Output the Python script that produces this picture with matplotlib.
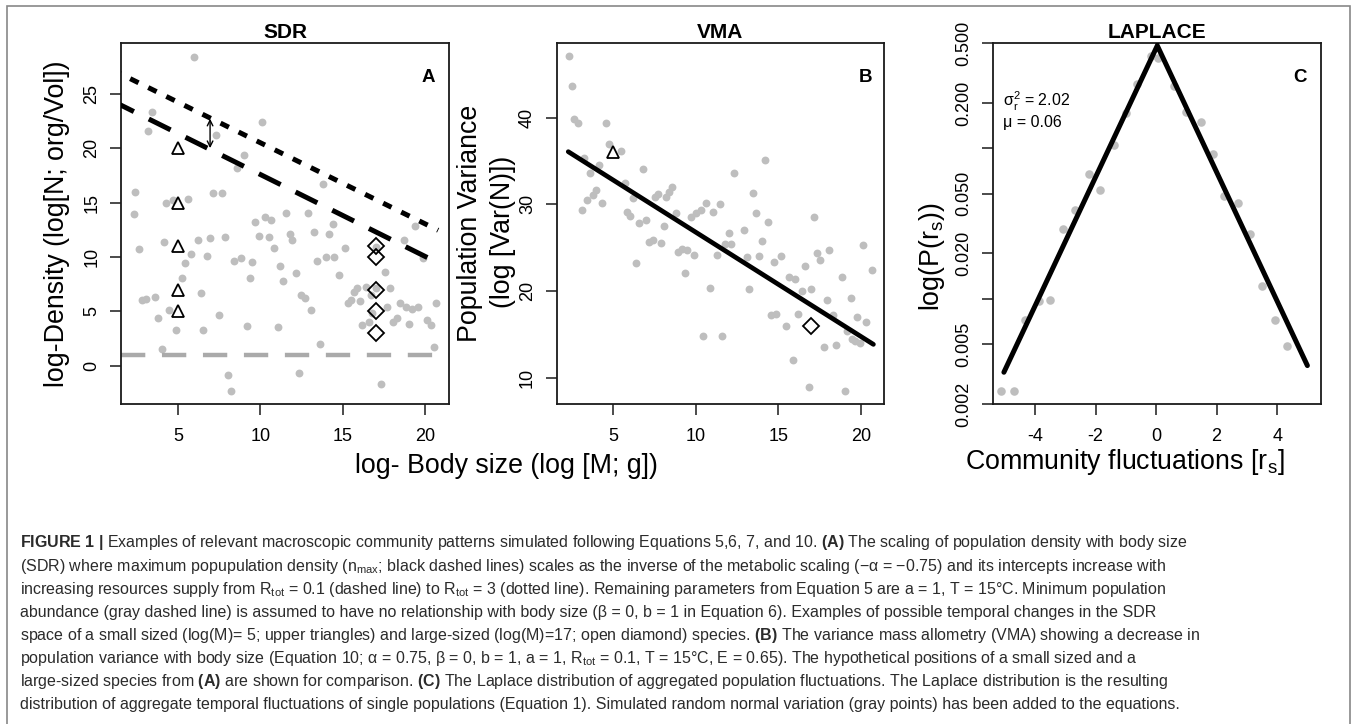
import matplotlib.pyplot as plt
from matplotlib.patches import Rectangle

plt.rcParams['font.family'] = ['Liberation Sans', 'DejaVu Sans']
plt.rcParams['axes.unicode_minus'] = False
plt.rcParams['mathtext.fontset'] = 'custom'
plt.rcParams['mathtext.rm'] = 'Liberation Sans'
plt.rcParams['mathtext.it'] = 'Liberation Sans:italic'
plt.rcParams['mathtext.bf'] = 'Liberation Sans:bold'
plt.rcParams['lines.scale_dashes'] = False

# ---- panel A: SDR (log-density vs log body size)
sdr_x = [6.0, 3.4, 3.2, 7.3, 9.0, 8.6, 2.4, 2.3, 4.3, 4.7, 5.6, 7.1, 7.7, 2.65, 4.15,
         6.2, 6.95, 7.85, 5.8, 6.75, 5.4, 5.25, 2.8, 3.05, 3.6, 6.4, 3.8, 4.45, 4.9, 6.55,
         7.5, 4.0, 8.05, 8.25, 8.4, 8.8, 9.5, 9.35, 9.2, 9.7,
         10.1, 10.3, 10.65, 9.9, 10.5, 10.85, 11.2, 11.35, 11.05, 11.55, 11.8, 11.95, 12.15,
         12.5, 12.7, 12.35, 12.9, 13.25, 13.8, 13.05, 13.45, 13.6, 14.0, 14.2, 14.4, 14.5,
         14.75, 15.15,
         15.35, 15.5, 15.7, 15.9, 16.05, 16.4, 16.75, 16.2, 16.6, 16.8, 17.05, 17.0, 17.55,
         17.35, 17.9, 17.7, 18.05, 18.3, 18.5, 18.7, 18.85, 19.2, 19.55, 19.05, 19.4, 19.9,
         20.1, 20.35, 20.55, 20.7]
sdr_y = [28.4, 23.35, 21.6, 21.2, 19.4, 18.2, 16.0, 13.9, 15.0, 15.2, 15.3, 15.85, 15.9, 10.7, 11.4,
         11.55, 11.7, 11.85, 10.25, 10.1, 9.4, 8.1, 6.05, 6.1, 6.3, 6.65, 4.4, 5.1, 3.25, 3.25,
         4.7, 1.5, -0.9, -2.3, 9.6, 9.9, 9.55, 8.1, 3.65, 13.25,
         22.4, 13.7, 13.35, 11.9, 11.8, 10.85, 9.15, 7.8, 3.6, 14.0, 12.1, 11.55, 8.55,
         6.5, 6.2, -0.7, 14.0, 12.25, 16.7, 5.1, 9.65, 2.0, 10.0, 12.1, 13.0, 9.95,
         8.35, 10.85,
         5.75, 6.05, 6.8, 7.1, 5.95, 7.2, 6.5, 3.75, 4.05, 4.85, 10.95, 7.1, 8.65,
         -1.7, 7.1, 5.4, 4.05, 4.35, 5.75, 11.55, 5.35, 5.2, 5.35, 3.85, 12.85, 9.9,
         4.2, 3.7, 1.7, 5.75]
small_size = 5
small_density = [20, 15, 11, 7, 5]
large_size = 17
large_density = [11, 10, 7, 5, 3]
nmax_r3_x = [1.0, 20.8]
nmax_r3_y = [27.2, 12.45]
nmax_r01_x = [1.0, 20.6]
nmax_r01_y = [24.35, 9.6]
min_density = 1.0
gap_arrow_x = 6.95
gap_arrow_y = [20.0, 22.7]

# ---- panel B: VMA
vma_x = [2.35, 2.5, 2.65, 2.85, 4.55, 4.75, 5.5, 3.25, 3.6, 4.15, 3.45, 3.8, 4.0, 3.1, 4.35,
         5.75, 6.2, 6.8, 5.85, 6.05, 6.6, 7.0, 6.4, 7.2, 7.4, 7.9, 8.1, 7.55, 7.75, 8.2,
         8.4, 8.6, 8.8, 8.95, 9.2, 9.5, 9.9, 9.35, 9.75, 10.05, 10.3, 10.65, 11.05, 10.9,
         10.45, 11.3, 11.45, 11.6, 11.8, 12.0, 12.15, 12.35, 12.95, 13.1, 13.25, 13.45,
         13.65, 13.85, 14.0, 14.2, 14.4, 14.55, 14.75, 14.9, 15.15, 15.5, 15.65, 15.9, 16.0,
         16.2, 16.45, 16.65, 16.85, 17.0, 17.15, 17.35, 17.55, 17.75, 17.95, 18.1, 18.3,
         18.5, 18.85, 19.05, 19.15, 19.4, 19.45, 19.65, 19.75, 19.95, 20.15, 20.35, 20.7]
vma_y = [47.1, 43.7, 39.85, 39.4, 39.4, 36.95, 36.15, 35.4, 33.65, 34.6, 30.5, 31.1, 31.65, 29.35, 30.2,
         32.5, 30.75, 34.1, 29.15, 28.7, 27.9, 28.2, 23.2, 25.7, 25.9, 25.6, 27.5, 30.9, 31.2, 30.9,
         31.45, 31.95, 29.05, 24.55, 24.9, 24.75, 24.15, 22.1, 28.5, 28.95, 29.35, 30.2, 29.15, 20.4,
         14.8, 24.15, 30.1, 14.8, 25.4, 26.7, 25.4, 33.6, 27.0, 23.95, 20.2, 31.3,
         29.0, 24.0, 25.8, 35.1, 28.0, 17.2, 23.4, 17.3, 24.0, 15.95, 21.6, 12.0, 21.35,
         17.4, 20.05, 22.9, 8.9, 20.2, 28.6, 24.4, 23.6, 13.6, 18.95, 24.7, 17.25,
         13.75, 21.6, 8.45, 15.4, 19.15, 14.45, 14.25, 17.05, 14.05, 25.3, 16.45, 22.4]
vma_fit_x = [2.29, 20.77]
vma_fit_y = [36.08, 13.85]
vma_small = [5, 36]
vma_large = [17, 16]

# ---- panel C: Laplace
lap_x = [-5.14, -4.71, -4.32, -3.87, -3.49, -3.08, -2.69, -2.23, -1.85, -1.39, -0.99, -0.62,
         -0.18, 0.06, 0.59, 1.0, 1.47, 1.88, 2.26, 2.7, 3.11, 3.51, 3.92, 4.32]
lap_p = [0.00243, 0.00243, 0.00726, 0.00962, 0.00977, 0.0289, 0.0389, 0.0676, 0.0528, 0.1055,
         0.171, 0.269, 0.409, 0.40, 0.261, 0.173, 0.1486, 0.0918, 0.0482, 0.0434, 0.0269,
         0.0121, 0.00726, 0.00482]
lap_fit_x = [-5.03, 0.04, 5.0]
lap_fit_p = [0.00325, 0.48, 0.0036]

W, H = 1357, 724
fig = plt.figure(figsize=(W / 100, H / 100), dpi=100)


def fx(px):
    return px / W


def fy(py):
    return 1 - py / H


def box(left, right, top=43, bottom=404):
    return [fx(left), fy(bottom), (right - left) / W, (bottom - top) / H]


def r_style(ax):
    for s in ax.spines.values():
        s.set_linewidth(1.3)
        s.set_color('#1a1a1a')
    ax.tick_params(direction='out', length=8, width=1.1, labelsize=13, color='#1a1a1a')
    ax.tick_params(axis='x', pad=9)
    ax.tick_params(axis='y', pad=7)
    plt.setp(ax.get_yticklabels(), rotation=90, va='center')


gray = '#bebebe'

# panel A
axA = fig.add_axes(box(121, 449))
axA.scatter(sdr_x, sdr_y, s=32, color=gray, linewidths=0, zorder=1)
axA.plot(nmax_r3_x, nmax_r3_y, color='black', lw=3.6, dashes=(6.7, 7.8), zorder=3)
axA.plot(nmax_r01_x, nmax_r01_y, color='black', lw=3.6, dashes=(17.5, 12), zorder=3)
axA.axhline(min_density, color='#aaaaaa', lw=3.2, dashes=(17.5, 12), zorder=2)
axA.plot([small_size] * len(small_density), small_density, ls='none', marker='^',
         ms=9, mfc='none', mec='black', mew=1.3, zorder=4)
axA.plot([large_size] * len(large_density), large_density, ls='none', marker='D',
         ms=8, mfc='none', mec='black', mew=1.3, zorder=4)
axA.annotate('', xy=(gap_arrow_x, gap_arrow_y[1]), xytext=(gap_arrow_x, gap_arrow_y[0]),
             arrowprops=dict(arrowstyle='<->', lw=1.0, color='black',
                             mutation_scale=10, shrinkA=0, shrinkB=0))
axA.set_xlim(1.54, 21.46)
axA.set_ylim(-3.52, 29.66)
axA.set_xticks([5, 10, 15, 20])
axA.set_yticks([0, 5, 10, 15, 20, 25])
r_style(axA)

# panel B
axB = fig.add_axes(box(556.7, 884.3))
axB.scatter(vma_x, vma_y, s=32, color=gray, linewidths=0, zorder=1)
axB.plot(vma_fit_x, vma_fit_y, color='black', lw=3.4, solid_capstyle='round', zorder=3)
axB.plot(vma_small[0], vma_small[1], marker='^', ms=9, mfc='none', mec='black', mew=1.3, zorder=4)
axB.plot(vma_large[0], vma_large[1], marker='D', ms=8, mfc='none', mec='black', mew=1.3, zorder=4)
axB.set_xlim(1.59, 21.43)
axB.set_ylim(6.97, 48.62)
axB.set_xticks([5, 10, 15, 20])
axB.set_yticks([10, 20, 30, 40])
r_style(axB)

# panel C
axC = fig.add_axes(box(992.7, 1321))
axC.scatter(lap_x, lap_p, s=38, color=gray, linewidths=0, zorder=1)
axC.plot(lap_fit_x, lap_fit_p, color='black', lw=3.6, solid_capstyle='round',
         solid_joinstyle='miter', zorder=3)
axC.set_yscale('log')
axC.set_xlim(-5.40, 5.45)
axC.set_ylim(0.002, 0.5)
axC.set_xticks([-4, -2, 0, 2, 4])
axC.set_yticks([0.002, 0.005, 0.01, 0.02, 0.05, 0.1, 0.2, 0.5],
               ['0.002', '0.005', '', '0.020', '0.050', '', '0.200', '0.500'])
axC.minorticks_off()
r_style(axC)

# titles, panel letters, axis labels
for x, t in [(285, 'SDR'), (720.5, 'VMA'), (1156.8, 'LAPLACE')]:
    fig.text(fx(x), fy(33), t, ha='center', va='center', fontsize=15, fontweight='bold')
for x, t in [(428, 'A'), (865, 'B'), (1300, 'C')]:
    fig.text(fx(x), fy(78), t, ha='center', va='center', fontsize=13.5, fontweight='bold')

fig.text(fx(1003), fy(101), r'$\mathrm{\sigma}^2_{\mathrm{r}}$ = 2.02', ha='left', va='center',
         fontsize=11.5)
fig.text(fx(1003), fy(123), 'μ = 0.06', ha='left', va='center', fontsize=11.5)

fig.text(fx(57), fy(224), 'log-Density (log[N; org/Vol])', rotation=90,
         ha='center', va='center', fontsize=19.3)
fig.text(fx(470), fy(223), 'Population Variance', rotation=90,
         ha='center', va='center', fontsize=19.3)
fig.text(fx(503), fy(232), '(log [Var(N)])', rotation=90,
         ha='center', va='center', fontsize=19.3)
fig.text(fx(932), fy(257), r'log(P(r$_\mathrm{s}$))', rotation=90,
         ha='center', va='center', fontsize=19.3)
fig.text(fx(506), fy(466), 'log- Body size (log [M; g])', ha='center', va='center', fontsize=19.3)
fig.text(fx(1125), fy(462), r'Community fluctuations [r$_\mathrm{s}$]', ha='center',
         va='center', fontsize=19.3)

# caption
caption = [
    r'$\mathbf{FIGURE\ 1\ |}$ Examples of relevant macroscopic community patterns simulated following Equations 5,6, 7, and 10. $\mathbf{(A)}$ The scaling of population density with body size',
    r'(SDR) where maximum popupulation density (n$_{\mathrm{max}}$; black dashed lines) scales as the inverse of the metabolic scaling (−α = −0.75) and its intercepts increase with',
    r'increasing resources supply from R$_{\mathrm{tot}}$ = 0.1 (dashed line) to R$_{\mathrm{tot}}$ = 3 (dotted line). Remaining parameters from Equation 5 are a = 1, T = 15°C. Minimum population',
    r'abundance (gray dashed line) is assumed to have no relationship with body size (β = 0, b = 1 in Equation 6). Examples of possible temporal changes in the SDR',
    r'space of a small sized (log(M)= 5; upper triangles) and large-sized (log(M)=17; open diamond) species. $\mathbf{(B)}$ The variance mass allometry (VMA) showing a decrease in',
    r'population variance with body size (Equation 10; α = 0.75, β = 0, b = 1, a = 1, R$_{\mathrm{tot}}$ = 0.1, T = 15°C, E = 0.65). The hypothetical positions of a small sized and a',
    r'large-sized species from $\mathbf{(A)}$ are shown for comparison. $\mathbf{(C)}$ The Laplace distribution of aggregated population fluctuations. The Laplace distribution is the resulting',
    r'distribution of aggregate temporal fluctuations of single populations (Equation 1). Simulated random normal variation (gray points) has been added to the equations.',
]
for i, line in enumerate(caption):
    fig.text(fx(20), fy(543 + i * 23.1), line, ha='left', va='center', fontsize=11.5,
             color='#2b2b2b')

fig.patches.append(Rectangle((fx(7), fy(740)), fx(1350) - fx(7), fy(6) - fy(740),
                             transform=fig.transFigure, fill=False, ec='#888888', lw=1.2))

fig.savefig('out.png', dpi=100)
